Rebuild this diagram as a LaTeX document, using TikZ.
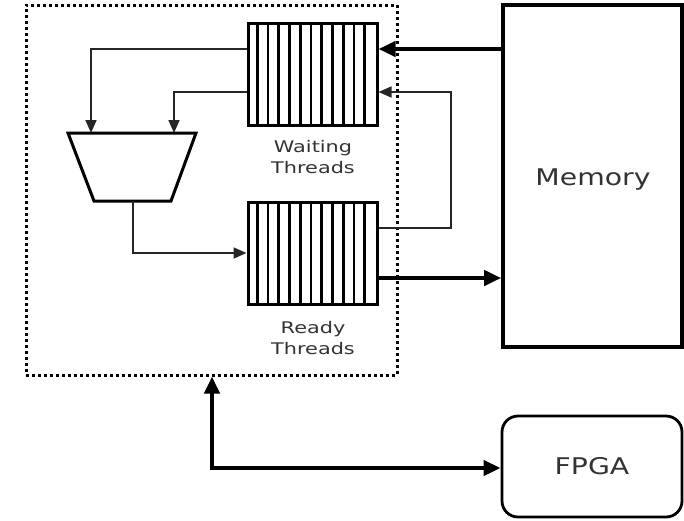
\documentclass[tikz,border=0pt]{standalone}
\usepackage{fontspec}
\setmainfont{DejaVu Sans}
\usetikzlibrary{arrows.meta,positioning}
\definecolor{LabelGray}{HTML}{333333}

\begin{document}
\begin{tikzpicture}[x=1pt,y=-1pt,
  queue/.style={rectangle,draw=black,line width=3pt,fill=white,minimum width=129pt,minimum height=102pt,inner sep=0pt},
  qline/.style={draw=black,line width=2.6pt},
  corebox/.style={rectangle,draw=black,line width=3pt,dash pattern=on 3pt off 3pt,minimum width=371pt,minimum height=370pt,inner sep=0pt},
  membox/.style={rectangle,draw=black,line width=3.6pt,minimum width=179pt,minimum height=342pt,inner sep=0pt},
  fpgabox/.style={rectangle,rounded corners=16pt,draw=black,line width=2.8pt,minimum width=180pt,minimum height=101pt,inner sep=0pt},
  biglbl/.style={text=LabelGray,font=\fontsize{23}{28}\selectfont},
  smalllbl/.style={text=LabelGray,align=center,font=\fontsize{16}{21}\selectfont},
  thinarrow/.style={-{Triangle[length=13pt,width=11pt]},draw=black!85,line width=1.7pt},
  thickarrow/.style={-{Triangle[length=17pt,width=15pt]},draw=black,line width=4pt}
]
\useasboundingbox (0,0) rectangle (684,520);
% core
\node[corebox] (core) at (211.5,190) {};
\node[queue] (waiting) at (312.5,74) {};
\node[queue] (ready) at (312.5,253) {};
\foreach \q in {waiting,ready}
  \foreach \i in {1,...,11}
    \draw[qline] ([xshift=\i*10.75pt]\q.north west) -- ([xshift=\i*10.75pt]\q.south west);
\node[smalllbl] (waitlbl) at (313,157) {\scalebox{1.3}[1]{Waiting}\\\scalebox{1.3}[1]{Threads}};
\node[smalllbl] (readylbl) at (313,338) {\scalebox{1.3}[1]{Ready}\\\scalebox{1.3}[1]{Threads}};
% mux
\draw[line width=3pt,line join=miter] (68,133) -- (196,133) -- (171,201) -- (94,201) -- cycle;
\coordinate (muxin1) at (91,133);
\coordinate (muxin2) at (174,133);
\coordinate (muxout) at (133,201);
% outside
\node[membox] (memory) at (592.5,176) {};
\node[biglbl] (memlbl) at (593,180) {\scalebox{1.23}[1]{Memory}};
\node[fpgabox] (fpga) at (592,466.5) {};
\node[biglbl] at (fpga.center) {\scalebox{1.23}[1]{FPGA}};
\coordinate (loopt) at (451,92);
\coordinate (bend) at (212,468);
% connectors
\draw[thinarrow] (waiting.west |- 0,49) -| (muxin1);
\draw[thinarrow] (waiting.west |- 0,92) -| (muxin2);
\draw[thinarrow] (muxout) |- (ready.west |- 0,253);
\draw[thinarrow] (ready.east |- 0,228) -| (loopt) -- (waiting.east |- loopt);
\draw[thickarrow] (memory.west |- 0,49) -- (waiting.east |- 0,49);
\draw[thickarrow] (ready.east |- 0,278) -- (memory.west |- 0,278);
\draw[thickarrow,{Triangle[length=17pt,width=15pt]}-{Triangle[length=17pt,width=15pt]}] (core.south -| bend) -- (bend) -- (fpga.west |- bend);
\end{tikzpicture}
\end{document}
